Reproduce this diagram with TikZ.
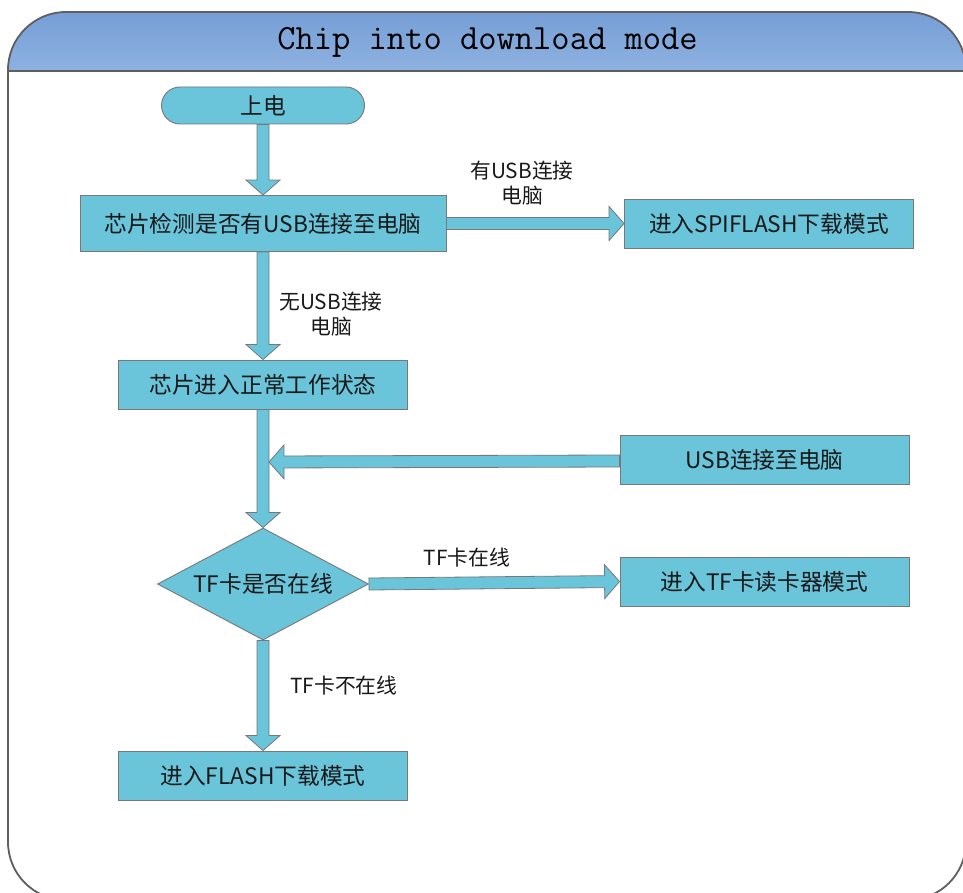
\documentclass[tikz,border=0pt]{standalone}
\usepackage{fontspec}
\newfontfamily\cjk{Noto Sans CJK SC}
\usetikzlibrary{calc,shapes.geometric}
\definecolor{boxfill}{RGB}{106,196,218}
\definecolor{boxline}{RGB}{120,120,120}
\definecolor{frameline}{RGB}{95,95,95}
\definecolor{bandtop}{RGB}{118,159,214}
\definecolor{bandbot}{RGB}{142,177,224}
\tikzset{
  boxsty/.style={draw=boxline, line width=0.9pt, fill=boxfill, inner sep=0pt,
    font=\cjk\fontsize{22.7}{26}\selectfont, text=black!90},
  lblsty/.style={font=\cjk\fontsize{20.8}{25}\selectfont, align=center, inner sep=0pt, text=black!90},
  arrowsty/.style={draw=boxline, line width=0.8pt, fill=boxfill, line join=miter},
  framesty/.style={draw=frameline, line width=1.8pt},
}
\newcommand\blockarr[2]{%
  \coordinate (ba) at #1;
  \coordinate (bb) at #2;
  \coordinate (bh) at ($(bb)!15pt!(ba)$);
  \draw[arrowsty] ($(ba)!6pt!90:(bb)$) -- ($(bh)!6pt!90:(bb)$) -- ($(bh)!17pt!90:(bb)$) -- (bb)
    -- ($(bh)!17pt!-90:(bb)$) -- ($(bh)!6pt!-90:(bb)$) -- ($(ba)!6pt!-90:(bb)$) -- cycle;
}
\begin{document}
\begin{tikzpicture}[x=1pt,y=-1pt]
\useasboundingbox (0,0) rectangle (963,893);
\fill[white] (0,0) rectangle (963,893);
% frame and title band
\begin{scope}
  \clip[rounded corners=58pt] (8,12) rectangle (966,900);
  \shade[top color=bandtop, bottom color=bandbot] (8,12) rectangle (966,71);
\end{scope}
\draw[framesty] (8,71) -- (966,71);
\draw[framesty, rounded corners=58pt] (8,12) rectangle (966,900);
\node[anchor=base, font=\ttfamily\fontsize{35.5}{40}\selectfont, inner sep=0pt] (title) at (487.5,50) {Chip into download mode};
% nodes
\node[boxsty, rounded corners=18.5pt, minimum width=203pt, minimum height=37pt] (start) at (263,105.5) {上电};
\node[boxsty, minimum width=366pt, minimum height=56pt] (chk) at (263,223.5) {芯片检测是否有USB连接至电脑};
\node[boxsty, minimum width=289pt, minimum height=49pt] (spi) at (769,223.5) {进入SPIFLASH下载模式};
\node[boxsty, minimum width=289pt, minimum height=49pt] (norm) at (263,384.5) {芯片进入正常工作状态};
\node[boxsty, minimum width=289pt, minimum height=49pt] (usb) at (764.5,459.5) {USB连接至电脑};
\node[boxsty, diamond, aspect=1.88, minimum width=211pt, minimum height=112pt] (dia) at (263,584) {TF卡是否在线};
\node[boxsty, minimum width=289pt, minimum height=49pt] (tf) at (764.5,581.5) {进入TF卡读卡器模式};
\node[boxsty, minimum width=289pt, minimum height=49pt] (flash) at (263,775.5) {进入FLASH下载模式};
% labels
\node[lblsty] (l1) at (522,183.5) {有USB连接\\电脑};
\node[lblsty] (l2) at (331,314.5) {无USB连接\\电脑};
\node[lblsty] (l3) at (467,558) {TF卡在线};
\node[lblsty] (l4) at (344,686) {TF卡不在线};
% connectors
\blockarr{(start.south)}{(chk.north)}
\blockarr{(chk.east)}{(spi.west)}
\blockarr{(chk.south)}{(norm.north)}
\blockarr{(norm.south)}{(dia.north)}
\coordinate (jn) at ([xshift=6pt,yshift=-2.5pt]norm.south |- usb.west);
\blockarr{([yshift=-1.5pt]usb.west)}{(jn)}
\blockarr{(dia.east)}{(tf.west)}
\blockarr{(dia.south)}{(flash.north)}
\end{tikzpicture}
\end{document}
